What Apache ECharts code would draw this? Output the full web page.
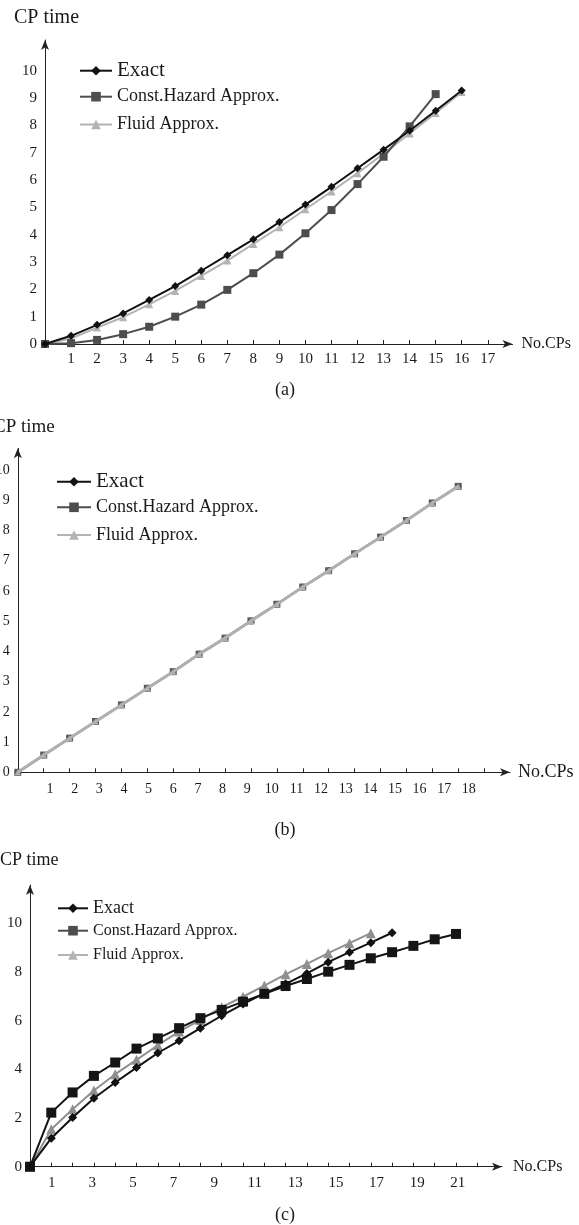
<!DOCTYPE html>
<html>
<head>
<meta charset="utf-8">
<script src="https://cdn.jsdelivr.net/npm/echarts@6/dist/echarts.min.js"></script>
<style>
  html, body { margin: 0; padding: 0; background: #fff; }
  #chart { width: 579px; height: 1225px; }
</style>
</head>
<body>
<div id="chart"></div>
<script>
// (a) CP time vs number of checkpoints
const aExact = [0, 0.30, 0.70, 1.12, 1.61, 2.12, 2.68, 3.25, 3.83, 4.46, 5.10, 5.75, 6.43, 7.11, 7.80, 8.53, 9.27]
const aHazard = [0, 0.03, 0.15, 0.36, 0.63, 1.00, 1.44, 1.98, 2.59, 3.27, 4.05, 4.90, 5.85, 6.85, 7.96, 9.14]
const aFluid = [0, 0.20, 0.60, 0.98, 1.45, 1.94, 2.49, 3.05, 3.66, 4.27, 4.93, 5.58, 6.25, 6.96, 7.70, 8.45, 9.22]

// (b) all three curves coincide
const bTimes = [0, 0.57, 1.13, 1.68, 2.23, 2.78, 3.33, 3.91, 4.44, 5.01, 5.56, 6.13, 6.67, 7.23, 7.78, 8.33, 8.91, 9.46]

// (c)
const cExact = [0, 1.17, 2.02, 2.81, 3.46, 4.07, 4.67, 5.17, 5.69, 6.20, 6.68, 7.12, 7.51, 7.94, 8.40, 8.81, 9.20, 9.61]
const cHazard = [0, 2.22, 3.05, 3.73, 4.28, 4.85, 5.27, 5.69, 6.10, 6.44, 6.78, 7.10, 7.42, 7.71, 8.01, 8.29, 8.56, 8.81, 9.07, 9.34, 9.56]
const cFluid = [0, 1.54, 2.36, 3.13, 3.80, 4.39, 4.99, 5.55, 6.03, 6.55, 6.98, 7.44, 7.90, 8.33, 8.77, 9.18, 9.59]

// tick labels
const aXLabels = [1, 2, 3, 4, 5, 6, 7, 8, 9, 10, 11, 12, 13, 14, 15, 16, 17]
const aYLabels = [0, 1, 2, 3, 4, 5, 6, 7, 8, 9, 10]
const bXLabels = [1, 2, 3, 4, 5, 6, 7, 8, 9, 10, 11, 12, 13, 14, 15, 16, 17, 18]
const bYLabels = [0, 1, 2, 3, 4, 5, 6, 7, 8, 9, 10]
const cXTicks = [1, 2, 3, 4, 5, 6, 7, 8, 9, 10, 11, 12, 13, 14, 15, 16, 17, 18, 19, 20, 21]
const cXLabels = [1, 3, 5, 7, 9, 11, 13, 15, 17, 19, 21]
const cYLabels = [0, 2, 4, 6, 8, 10]

const SERIES_NAMES = ['Exact', 'Const.Hazard Approx.', 'Fluid Approx.']
const FONT = '"Liberation Serif", "Times New Roman", serif'
const INK = '#1a1a1a'

const toPoints = (arr) => arr.map((v, i) => [i, v])

const chart = echarts.init(document.getElementById('chart'))

function xAxisOf(gridIndex, max, opts) {
  return {
    type: 'value', gridIndex, min: 0, max,
    name: 'No.CPs', nameLocation: 'end', nameGap: opts.nameGap,
    nameTextStyle: { fontFamily: FONT, fontSize: opts.nameSize, color: INK },
    axisLine: { show: true, lineStyle: { color: '#222', width: 1 }, symbol: ['none', 'arrow'], symbolSize: [6, 10] },
    axisTick: { show: true, inside: true, length: 4, lineStyle: { color: '#222' }, customValues: opts.ticks },
    axisLabel: opts.labels
      ? { show: true, customValues: opts.labels, margin: opts.margin, fontFamily: FONT, fontSize: opts.fontSize, color: INK }
      : { show: false },
    splitLine: { show: false },
  }
}

function yAxisOf(gridIndex, max, labels, fontSize) {
  return {
    type: 'value', gridIndex, min: 0, max,
    axisLine: { show: true, lineStyle: { color: '#222', width: 1 }, symbol: ['none', 'arrow'], symbolSize: [6, 10] },
    axisTick: { show: false },
    axisLabel: { customValues: labels, margin: 8, fontFamily: FONT, fontSize, color: INK },
    splitLine: { show: false },
  }
}

// label-only axis (the source labels drift away from their ticks)
function labelAxisOf(gridIndex, min, max, labels, fontSize, margin) {
  return {
    type: 'value', gridIndex, min, max,
    axisLine: { show: false }, axisTick: { show: false }, splitLine: { show: false },
    axisLabel: { customValues: labels, margin, fontFamily: FONT, fontSize, color: INK },
  }
}

function lineSeries(name, data, axis, color, symbol, size, width, z) {
  return {
    type: 'line', name, data: toPoints(data),
    xAxisIndex: axis, yAxisIndex: axis,
    symbol, symbolSize: size, showSymbol: true,
    lineStyle: { color, width },
    itemStyle: { color },
    z,
    animation: false,
  }
}

function legendItem(name, left, centerY, fontSize, itemWidth) {
  return {
    data: [{ name, textStyle: { fontSize } }],
    left, top: centerY - fontSize / 2,
    padding: 0, itemWidth, itemHeight: 12,
    selectedMode: false,
    textStyle: { fontFamily: FONT, color: INK },
  }
}

const legendFonts = [[21, 18, 18], [21, 18, 18], [18, 16, 16]]
const legendRows = [[70.7, 96.7, 124.5], [481.7, 507.3, 535], [908.3, 930.7, 955]]
const legendLefts = [[79, 32], [56, 34], [57, 30]]
const legends = []
legendRows.forEach((rows, p) => {
  rows.forEach((cy, k) => {
    legends.push(legendItem(SERIES_NAMES[k], legendLefts[p][0], cy, legendFonts[p][k], legendLefts[p][1]))
  })
})

function textEl(text, x, y, size, align) {
  return {
    type: 'text', x, y,
    style: { text, font: `${size}px ${FONT}`, fill: INK, align: align || 'left', verticalAlign: 'middle' },
  }
}

const option = {
  backgroundColor: '#fff',
  animation: false,
  grid: [
    { left: 45, top: 40, width: 467.5, height: 304, outerBoundsMode: 'none' },
    { left: 17.8, top: 448.3, width: 492.2, height: 324, outerBoundsMode: 'none' },
    { left: 30, top: 885, width: 472, height: 281.7, outerBoundsMode: 'none' },
    { left: 17.8, top: 448.3, width: 492.2, height: 324, outerBoundsMode: 'none' },
    { left: 30, top: 885, width: 472, height: 281.7, outerBoundsMode: 'none' },
  ],
  xAxis: [
    xAxisOf(0, 17.95, { ticks: aXLabels, labels: aXLabels, fontSize: 15, margin: 8, nameGap: 9, nameSize: 16 }),
    xAxisOf(1, 19.0, { ticks: bXLabels, labels: null, nameGap: 8, nameSize: 18 }),
    xAxisOf(2, 22.16, { ticks: cXTicks, labels: null, nameGap: 11, nameSize: 16 }),
    labelAxisOf(3, -0.31, 19.67, bXLabels, 14, 10),
    labelAxisOf(4, -0.07, 23.18, cXLabels, 15, 9),
  ],
  yAxis: [
    yAxisOf(0, 11.12, aYLabels, 15),
    yAxisOf(1, 10.72, bYLabels, 14),
    yAxisOf(2, 11.57, cYLabels, 15),
    { type: 'value', gridIndex: 3, min: 0, max: 1, show: false },
    { type: 'value', gridIndex: 4, min: 0, max: 1, show: false },
  ],
  legend: legends,
  series: [
    // (a)
    lineSeries('Fluid Approx.', aFluid, 0, '#b3b3b3', 'triangle', 8, 2, 2),
    lineSeries('Const.Hazard Approx.', aHazard, 0, '#4d4d4d', 'rect', 8, 2, 3),
    lineSeries('Exact', aExact, 0, '#111111', 'diamond', 8, 2, 4),
    // (b)
    lineSeries('Exact', bTimes, 1, '#111111', 'diamond', 7, 2, 2),
    lineSeries('Const.Hazard Approx.', bTimes, 1, '#5a5a5a', 'rect', 7, 2, 3),
    lineSeries('Fluid Approx.', bTimes, 1, '#b0b0b0', 'triangle', 6, 3, 4),
    // (c)
    lineSeries('Fluid Approx.', cFluid, 2, '#8f8f8f', 'triangle', 10, 2, 2),
    lineSeries('Const.Hazard Approx.', cHazard, 2, '#151515', 'rect', 10, 2, 3),
    lineSeries('Exact', cExact, 2, '#111111', 'diamond', 9, 2, 4),
  ],
  graphic: [
    textEl('CP time', 14, 17.5, 20),
    textEl('(a)', 285, 390, 18, 'center'),
    textEl('CP time', -7, 427, 19),
    textEl('(b)', 285, 830, 18, 'center'),
    textEl('CP time', 0, 860.7, 18),
    textEl('(c)', 285, 1215, 18, 'center'),
  ],
}

chart.setOption(option)
</script>
</body>
</html>
